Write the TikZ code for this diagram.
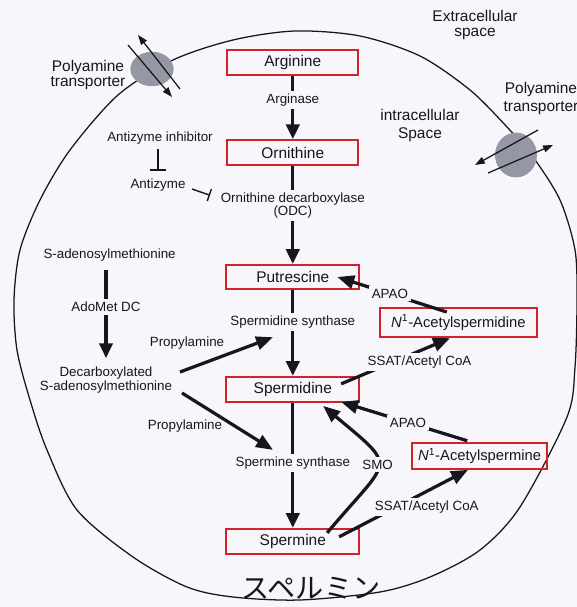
\documentclass[tikz,border=0pt]{standalone}
\usepackage{fontspec}
\setmainfont{Liberation Sans}
\newfontfamily\jpfont{Noto Sans CJK JP}
\usepackage{xcolor}
\definecolor{pagebg}{RGB}{247,246,250}
\definecolor{boxred}{RGB}{214,32,45}
\definecolor{portgray}{RGB}{150,151,165}
\definecolor{ink}{RGB}{22,22,28}
\usepackage{tikz}
\usetikzlibrary{arrows.meta, positioning, shapes.geometric, calc}

\begin{document}
\begin{tikzpicture}[
  every node/.style={text=ink},
  metab/.style={draw=boxred, line width=1.5pt, inner sep=0pt, minimum height=0.625cm, font=\fontsize{11}{13}\selectfont},
  acmetab/.style={metab, font=\fontsize{10.5}{12}\selectfont},
  lbl/.style={font=\fontsize{9.5}{9.4}\selectfont, inner sep=2pt, align=center},
  gaplbl/.style={lbl, fill=pagebg},
  bigtext/.style={font=\fontsize{11}{10.8}\selectfont, align=center, inner sep=1pt},
  flux/.style={draw=ink, line width=2.4pt, -{Triangle[length=10.5pt,width=9.5pt]}},
  sidearr/.style={draw=ink, line width=2.3pt, -{Triangle[length=12pt,width=9.5pt]}},
  inhib/.style={draw=ink, line width=1pt},
  porter/.style={ellipse, fill=portgray, inner sep=0pt},
  portarr/.style={draw=ink, line width=0.9pt, -{Triangle[length=7pt,width=5pt]}}
]
  % page and cell wall
  \fill[pagebg] (0,0) rectangle (14.425,15.175);
  \useasboundingbox (0,0) rectangle (14.425,15.175);
  \draw[ink, line width=0.9pt] plot[smooth cycle] coordinates {
    (7.375,14.4) (9.0,14.275) (10.5,13.775) (11.75,12.925) (12.675,12.0)
    (13.325,11.25) (14.0,10.175) (14.375,8.925) (14.425,7.675) (14.375,6.0)
    (14.175,4.75) (13.0,2.5) (12.0,1.425) (10.75,0.75) (9.5,0.375)
    (7.5,0.175) (5.825,0.25) (4.675,0.5) (3.325,1.25) (1.925,2.425)
    (1.175,3.925) (0.75,5.175) (0.425,6.425) (0.35,7.675) (0.5,8.925)
    (1.0,10.175) (1.75,11.425) (2.95,12.8) (4.325,13.675) (5.825,14.175)};

  % transporters
  \node[porter, minimum width=1.08cm, minimum height=0.86cm] (ptl) at (3.8,13.45) {};
  \draw[portarr] ($(ptl)+(0.7,-0.5)$) -- ($(ptl)+(-0.35,0.85)$);
  \draw[portarr] ($(ptl)+(-0.6,0.6)$) -- ($(ptl)+(0.5,-0.7)$);
  \node[porter, minimum width=1.05cm, minimum height=1.12cm] (ptr) at (12.9,11.3) {};
  \draw[portarr] ($(ptr)+(0.55,0.625)$) -- ($(ptr)+(-1.025,-0.25)$);
  \draw[portarr] ($(ptr)+(-0.7,-0.45)$) -- ($(ptr)+(0.925,0.25)$);
  \node[bigtext] (ptllab) at (2.2,13.3) {Polyamine\\transporter};
  \node[bigtext, font=\fontsize{11}{12.8}\selectfont] (ptrlab) at (13.525,12.7) {Polyamine\\transporter};
  \node[bigtext, font=\fontsize{11}{11.3}\selectfont] (extra) at (11.875,14.55) {Extracellular\\space};
  \node[bigtext, font=\fontsize{11}{12.8}\selectfont] (intra) at (10.5,12.025) {intracellular\\Space};

  % main pathway
  \node[metab, minimum width=3.275cm] (arg) at (7.32,13.61) {Arginine};
  \node[metab, minimum width=3.275cm] (orn) at (7.32,11.36) {Ornithine};
  \node[metab, minimum width=3.325cm, minimum height=0.6cm] (put) at (7.32,8.25) {Putrescine};
  \node[metab, minimum width=3.325cm] (spd) at (7.32,5.44) {Spermidine};
  \node[metab, minimum width=3.325cm] (spm) at (7.32,1.64) {Spermine};
  \node[acmetab, minimum width=3.925cm, minimum height=0.725cm] (acspd) at (11.46,7.11) {\textit{N}\textsuperscript{1}-Acetylspermidine};
  \node[acmetab, minimum width=3.375cm, minimum height=0.65cm] (acspm) at (11.99,3.78) {\textit{N}\textsuperscript{1}-Acetylspermine};

  \draw[flux] (arg) -- node[gaplbl, pos=0.385] (argase) {Arginase} (orn);
  \draw[flux] (orn) -- node[gaplbl, pos=0.40] (odc) {Ornithine decarboxylase\\(ODC)} (put);
  \draw[flux] (put) -- node[gaplbl, pos=0.375] (spds) {Spermidine synthase} (spd);
  \draw[flux] (spd) -- node[gaplbl, pos=0.48] (spms) {Spermine synthase} (spm);

  % back-conversion
  \draw[sidearr] ($(acspd.north)+(-0.29,-0.125)$) -- node[gaplbl, pos=0.52] (apao1) {APAO} ($(put.east)+(-0.575,0)$);
  \draw[sidearr] ($(spd.north east)+(-0.48,-0.2)$) -- node[gaplbl, pos=0.72, yshift=-7.6pt] (ssat1) {SSAT/Acetyl CoA} ($(acspd.south)+(-0.21,0)$);
  \draw[sidearr] ($(acspm.north)+(-0.31,0.025)$) -- node[gaplbl, pos=0.47] (apao2) {APAO} ($(spd.south east)+(-0.48,0.025)$);
  \draw[sidearr] ($(spm.north east)+(-0.53,-0.225)$) -- node[gaplbl, pos=0.68, yshift=-11.3pt] (ssat2) {SSAT/Acetyl CoA} ($(acspm.south)+(-0.29,0)$);
  \draw[sidearr] ($(spm.north east)+(-0.83,-0.125)$) to[out=50, in=-40, looseness=2] node[gaplbl, pos=0.5] (smo) {SMO} ($(spd.south east)+(-0.93,-0.075)$);

  % antizyme
  \node[lbl] (azi) at (4.0,11.725) {Antizyme inhibitor};
  \node[lbl] (az) at (3.95,10.55) {Antizyme};
  \draw[inhib, -{Bar[width=12pt]}, shorten <=0.5mm, shorten >=1.2mm] (azi.south -| az.north) -- (az.north);
  \draw[inhib, -{Bar[width=9pt]}] ($(az)+(0.85,-0.1)$) -- ($(odc)+(-2.07,0.25)$);

  % decarboxylated SAM branch
  \node[lbl] (sam) at (2.74,8.8) {S-adenosylmethionine};
  \node[lbl] (dcsam) at (2.65,5.675) {Decarboxylated\\S-adenosylmethionine};
  \draw[flux, shorten <=1.5mm, shorten >=1.5mm] (sam.south -| dcsam.north) -- node[gaplbl, pos=0.43] (adomet) {AdoMet DC} (dcsam.north);
  \draw[sidearr] ($(dcsam)+(1.85,0.2)$) -- ($(spds)+(-0.495,-0.375)$);
  \draw[sidearr] ($(dcsam)+(1.9,-0.325)$) -- ($(spms)+(-0.495,0.325)$);
  \node[lbl] (prop1) at (4.675,6.6) {Propylamine};
  \node[lbl] (prop2) at (4.625,4.525) {Propylamine};

  % note
  \node[font=\jpfont\fontsize{20}{20}\selectfont] (note) at (7.775,0.475) {スペルミン};
\end{tikzpicture}
\end{document}
